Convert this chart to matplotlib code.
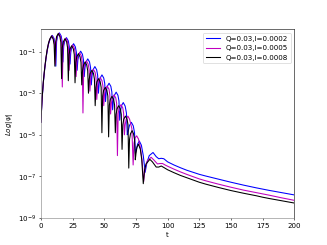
import numpy as np
import matplotlib
matplotlib.use("Agg")
import matplotlib.pyplot as plt

# values, stored as log10|psi|
t_blue = [0, 1, 2, 3, 4, 5, 6, 7, 9.0, 10.4, 11.2, 11.8, 12.4, 13.2, 14.6, 16.0, 16.8, 17.4, 18.0, 18.8,
          20.2, 21.6, 22.4, 23.0, 23.6, 24.4, 25.8, 27.2, 28.0, 28.6, 29.2, 30.0, 31.4, 32.8, 33.6, 34.2,
          34.8, 35.6, 37.0, 38.4, 39.2, 39.8, 40.4, 41.2, 42.6, 44.0, 44.8, 45.4, 46.0, 46.8, 48.2, 49.6,
          50.4, 51.0, 51.6, 52.4, 53.8, 55.2, 56.0, 56.6, 57.2, 58.0, 59.4, 60.8, 61.6, 62.2, 62.8, 63.6,
          65.0, 66.5, 67.5, 68.2, 68.9, 69.9, 71.4, 72.9, 73.9, 74.6, 75.3, 76.3, 77.7, 79.3, 80.8, 82.3,
          83.6, 85.5, 88.5, 91, 93, 95, 97, 100, 105, 110, 115, 120, 125, 130, 140, 150, 160, 170, 175,
          180, 190, 200]
v_blue = [-4.4, -3.25, -2.45, -1.85, -1.35, -0.95, -0.65, -0.45, -0.22, -0.37, -0.64, -1.7, -0.52, -0.25,
          -0.10, -0.25, -0.52, -1.5, -0.75, -0.48, -0.33, -0.48, -0.75, -1.6, -1.04, -0.77, -0.62, -0.77,
          -1.04, -1.9, -1.40, -1.13, -0.98, -1.13, -1.40, -2.2, -1.77, -1.50, -1.35, -1.50, -1.77, -2.6,
          -2.14, -1.87, -1.72, -1.87, -2.14, -3.0, -2.54, -2.27, -2.12, -2.27, -2.54, -3.4, -2.94, -2.67,
          -2.52, -2.67, -2.94, -3.8, -3.37, -3.10, -2.95, -3.10, -3.37, -4.3, -3.87, -3.60, -3.45, -3.62,
          -3.95, -5.0, -4.82, -4.55, -4.4, -4.57, -4.9, -5.9, -5.72, -5.45, -5.3, -5.5, -6.0, -6.8, -6.35,
          -6.0, -5.85, -6.05, -6.15, -6.13, -6.15, -6.30, -6.45, -6.58, -6.70, -6.80, -6.90, -6.98, -7.13,
          -7.28, -7.42, -7.55, -7.61, -7.67, -7.78, -7.89]

t_mag = [0, 1, 2, 3, 4, 5, 6, 7, 8.7, 10.1, 10.8, 11.4, 12.0, 12.8, 14.15, 15.5, 16.3, 16.9, 17.5, 18.3,
         19.6, 21.0, 21.7, 22.3, 22.9, 23.7, 25.05, 26.4, 27.2, 27.8, 28.4, 29.2, 30.5, 31.9, 32.6, 33.2,
         33.8, 34.6, 35.95, 37.3, 38.1, 38.7, 39.3, 40.1, 41.4, 42.8, 43.5, 44.1, 44.7, 45.5, 46.85, 48.2,
         49.0, 49.6, 50.2, 51.0, 52.3, 53.7, 54.4, 55.0, 55.6, 56.4, 57.75, 59.1, 59.8, 60.4, 61.0, 61.8,
         63.2, 64.6, 65.3, 65.9, 66.5, 67.3, 68.65, 70.0, 71.8, 72.8, 73.5, 74.3, 75.6, 77.0, 78.5, 79.8,
         81.1, 82.2, 84.0, 87.0, 89, 92, 94, 96, 98, 100, 105, 110, 115, 120, 125, 130, 140, 150, 160, 170,
         175, 180, 190, 200]
v_mag = [-4.4, -3.22, -2.42, -1.82, -1.32, -0.92, -0.62, -0.42, -0.24, -0.39, -0.66, -1.6, -0.54, -0.27,
         -0.12, -0.27, -0.54, -2.7, -0.78, -0.51, -0.36, -0.51, -0.78, -1.9, -1.10, -0.83, -0.68, -0.83,
         -1.10, -2.2, -1.47, -1.20, -1.05, -1.20, -1.47, -3.95, -1.87, -1.60, -1.45, -1.60, -1.87, -2.9,
         -2.27, -2.00, -1.85, -2.00, -2.27, -3.3, -2.67, -2.40, -2.25, -2.40, -2.67, -3.6, -3.07, -2.80,
         -2.65, -2.80, -3.07, -4.0, -3.50, -3.23, -3.08, -3.23, -3.50, -6.0, -3.97, -3.70, -3.55, -3.70,
         -3.97, -5.0, -4.52, -4.25, -4.1, -4.25, -4.7, -6.45, -5.4, -5.15, -5.05, -5.2, -5.6, -6.2, -7.25,
         -6.6, -6.25, -6.08, -6.2, -6.4, -6.38, -6.38, -6.45, -6.51, -6.65, -6.78, -6.90, -7.01, -7.12,
         -7.21, -7.37, -7.52, -7.66, -7.78, -7.84, -7.90, -8.03, -8.15]

t_black = [0, 1, 2, 3, 4, 5, 6, 7, 8.4, 9.7, 10.45, 11.05, 11.65, 12.4, 13.7, 15.0, 15.75, 16.35, 16.95,
           17.7, 19.0, 20.3, 21.05, 21.65, 22.25, 23.0, 24.3, 25.6, 26.35, 26.95, 27.55, 28.3, 29.6, 30.9,
           31.65, 32.25, 32.85, 33.6, 34.9, 36.2, 36.95, 37.55, 38.15, 38.9, 40.2, 41.5, 42.25, 42.85,
           43.45, 44.2, 45.5, 46.8, 47.55, 48.15, 48.75, 49.5, 50.8, 52.1, 52.85, 53.45, 54.05, 54.8, 56.1,
           57.4, 58.15, 58.75, 59.35, 60.1, 61.4, 62.7, 63.45, 64.05, 64.65, 65.4, 66.7, 68.0, 68.75, 69.35,
           69.95, 70.7, 72.0, 73.1, 73.9, 74.5, 75.1, 75.8, 77.0, 78.5, 79.6, 80.8, 81.8, 83.0, 86.0, 88, 91,
           93, 95, 97, 100, 105, 110, 115, 120, 125, 130, 140, 150, 160, 170, 175, 180, 190, 200]
v_black = [-4.4, -3.2, -2.4, -1.8, -1.3, -0.9, -0.6, -0.4, -0.25, -0.40, -0.67, -1.7, -0.55, -0.28, -0.13,
           -0.28, -0.55, -2.3, -0.80, -0.53, -0.38, -0.53, -0.80, -2.4, -1.14, -0.87, -0.72, -0.87, -1.14,
           -2.5, -1.52, -1.25, -1.10, -1.25, -1.52, -2.6, -1.92, -1.65, -1.50, -1.65, -1.92, -3.0, -2.32,
           -2.05, -1.90, -2.05, -2.32, -3.6, -2.72, -2.45, -2.30, -2.45, -2.72, -4.9, -3.14, -2.87, -2.72,
           -2.87, -3.14, -5.1, -3.57, -3.30, -3.15, -3.30, -3.57, -4.9, -4.02, -3.75, -3.60, -3.75, -4.02,
           -5.7, -4.52, -4.25, -4.10, -4.25, -4.52, -6.6, -5.22, -4.95, -4.80, -4.95, -5.22, -6.2, -5.87,
           -5.60, -5.45, -5.70, -6.20, -7.35, -6.70, -6.40, -6.18, -6.30, -6.55, -6.55, -6.50, -6.57, -6.68,
           -6.82, -6.95, -7.06, -7.17, -7.28, -7.37, -7.53, -7.68, -7.81, -7.93, -8.00, -8.06, -8.17, -8.28]

labels = ['Q=0.03,l=0.0002', 'Q=0.03,l=0.0005', 'Q=0.03,l=0.0008']
xticks = [0, 25, 50, 75, 100, 125, 150, 175, 200]
yticks = [1e-9, 1e-7, 1e-5, 1e-3, 1e-1]

fig, ax = plt.subplots(figsize=(6.4, 4.8))
ax.plot(t_blue, 10 ** np.array(v_blue), color='blue', label=labels[0])
ax.plot(t_mag, 10 ** np.array(v_mag), color='m', label=labels[1])
ax.plot(t_black, 10 ** np.array(v_black), color='black', label=labels[2])

ax.set_yscale('log')
ax.set_xlim(0, 200)
ax.set_ylim(1e-9, 1.2)
ax.set_xticks(xticks)
ax.set_yticks(yticks)
ax.minorticks_off()
ax.set_xlabel('t')
ax.set_ylabel(r'$Log|\psi|$')
ax.spines['left'].set_color('gray')
ax.spines['bottom'].set_color('gray')
ax.legend(loc='upper right')

plt.savefig('out.png', dpi=51.1)
